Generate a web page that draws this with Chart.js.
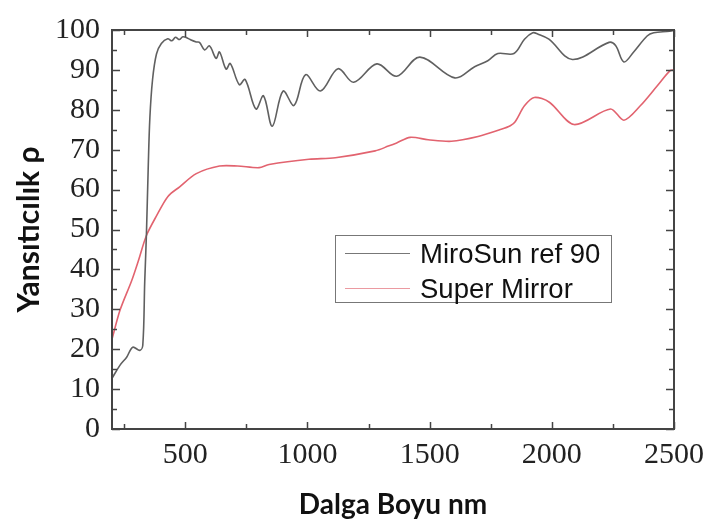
<!DOCTYPE html>
<html>
<head>
<meta charset="utf-8">
<script src="https://cdn.jsdelivr.net/npm/chart.js@4.4.0/dist/chart.umd.min.js"></script>
<style>
  html, body { margin: 0; padding: 0; background: #fff; }
  #wrap { position: relative; width: 712px; height: 530px; }
  #legend {
    position: absolute; left: 335px; top: 235px; width: 277px; height: 68px;
    box-sizing: border-box; border: 1.5px solid #777; background: #fff;
    font-family: "Liberation Sans", Arial, sans-serif; font-size: 27.5px; color: #111;
  }
  .row { display: flex; align-items: center; height: 33px; }
  .swatch { width: 65px; margin-left: 9px; margin-right: 10px; border-top: 1.5px solid; }
</style>
</head>
<body>
<div id="wrap">
  <canvas id="chart" width="712" height="530"></canvas>
  <div id="legend"></div>
</div>
<script>
// wavelength (nm) and reflectance values
const mirosunNm = [200, 233, 260, 285, 314, 326, 334, 341, 348, 355, 366, 382, 402, 428, 445, 460, 475, 490, 504, 520, 545,
  558, 579, 599, 626, 640, 667, 684, 721, 745, 789, 820, 856, 900, 945, 992, 1053, 1125, 1189, 1284, 1365, 1460,
  1603, 1684, 1738, 1779, 1845, 1888, 1922, 1942, 1988, 2084, 2234, 2261, 2295, 2335, 2390, 2417, 2482, 2500]
const mirosunR = [12.7, 16, 18, 20.5, 19.7, 21, 37, 49, 65, 78, 87.6, 94, 96.6, 97.8, 97.3, 98.2, 97.6, 98.3, 98.1, 97.6, 97,
  96.9, 95, 96, 92.9, 94.5, 90.2, 91.6, 86.3, 87.6, 80.2, 83.5, 75.9, 84.7, 81.1, 88.8, 84.7, 90.3, 86.9, 91.5, 88.4, 93.2,
  88, 90.8, 92.3, 94.1, 94.1, 97.7, 99.3, 99, 97.7, 92.6, 96.9, 96.1, 92, 94.5, 98.5, 99.3, 99.7, 100]

const superNm = [200, 233, 280, 307, 341, 382, 429, 477, 545, 640, 714, 802, 843, 1006, 1114, 1277, 1331, 1365, 1420,
  1494, 1589, 1698, 1793, 1830, 1850, 1888, 1928, 1990, 2091, 2240, 2295, 2362, 2430, 2484, 2500]
const superR = [22.5, 29.8, 37.1, 42, 48.5, 53.4, 58.3, 60.7, 64, 65.9, 65.9, 65.5, 66.3, 67.6, 68, 69.7, 70.9, 71.7, 73.1,
  72.5, 72.1, 73.3, 75.1, 76, 77, 81, 83.1, 81.9, 76.3, 80.2, 77.4, 81, 85.9, 89.8, 90]

const xMajorTicks = [500, 1000, 1500, 2000, 2500]
const xMinorTicks = [250, 750, 1250, 1750, 2250]
const yMajorTicks = [0, 10, 20, 30, 40, 50, 60, 70, 80, 90, 100]
const yMinorTicks = [5, 15, 25, 35, 45, 55, 65, 75, 85, 95]

const seriesLabels = ["MiroSun ref 90", "Super Mirror"]
const lineColors = ["#606060", "#e2636f"]
const legendColors = ["#777777", "#eb9aa1"]

// frame round the plot with inward ticks on every side
const framePlugin = {
  id: 'frame',
  afterDatasetsDraw(chart) {
    const { ctx, chartArea: a, scales: { x, y } } = chart
    ctx.save()
    ctx.strokeStyle = '#444'
    ctx.lineWidth = 2
    ctx.strokeRect(a.left, a.top, a.right - a.left, a.bottom - a.top)
    ctx.lineWidth = 1.5
    ctx.beginPath()
    const xt = (vals, len) => vals.forEach(v => {
      const px = Math.round(x.getPixelForValue(v)) + 0.5
      ctx.moveTo(px, a.bottom); ctx.lineTo(px, a.bottom - len)
      ctx.moveTo(px, a.top); ctx.lineTo(px, a.top + len)
    })
    const yt = (vals, len) => vals.forEach(v => {
      const py = Math.round(y.getPixelForValue(v)) + 0.5
      ctx.moveTo(a.left, py); ctx.lineTo(a.left + len, py)
      ctx.moveTo(a.right, py); ctx.lineTo(a.right - len, py)
    })
    xt(xMajorTicks, 7); xt(xMinorTicks, 5)
    yt(yMajorTicks, 8); yt(yMinorTicks, 5)
    ctx.stroke()
    ctx.restore()
  }
}

const ctx = document.getElementById('chart')
const chart = new Chart(ctx, {
  type: 'line',
  data: {
    datasets: [
      {
        label: seriesLabels[0],
        data: mirosunNm.map((v, i) => ({ x: v, y: mirosunR[i] })),
        borderColor: lineColors[0],
        borderWidth: 1.6,
        tension: 0.35
      },
      {
        label: seriesLabels[1],
        data: superNm.map((v, i) => ({ x: v, y: superR[i] })),
        borderColor: lineColors[1],
        borderWidth: 1.6,
        tension: 0.3
      }
    ]
  },
  options: {
    responsive: false,
    animation: false,
    layout: { padding: { left: 0, right: 37, top: 19, bottom: 0 } },
    elements: { point: { radius: 0 } },
    plugins: {
      legend: { display: false },
      tooltip: { enabled: false }
    },
    scales: {
      x: {
        type: 'linear',
        min: 200,
        max: 2500,
        afterBuildTicks: s => { s.ticks = xMajorTicks.map(v => ({ value: v })) },
        afterFit: s => { s.height = 101 },
        grid: { display: false, drawTicks: false },
        border: { display: false },
        ticks: {
          padding: 8,
          color: '#222',
          maxRotation: 0,
          autoSkip: false,
          callback: v => String(v),
          font: { family: '"Liberation Serif", serif', size: 30 }
        },
        title: {
          display: true,
          text: 'Dalga Boyu nm',
          color: '#111',
          font: { family: 'Lato', weight: 'bold', size: 28 },
          padding: { top: 0, bottom: 8 }
        }
      },
      y: {
        min: 0,
        max: 100,
        afterBuildTicks: s => { s.ticks = yMajorTicks.map(v => ({ value: v })) },
        afterFit: s => { s.width = 112 },
        grid: { display: false, drawTicks: false },
        border: { display: false },
        ticks: {
          padding: 12,
          color: '#222',
          callback: v => String(v),
          font: { family: '"Liberation Serif", serif', size: 30 }
        },
        title: {
          display: true,
          text: 'Yansıtıcılık ρ',
          color: '#111',
          font: { family: 'Lato', weight: 'bold', size: 30 },
          padding: { top: 11, bottom: 0 }
        }
      }
    }
  },
  plugins: [framePlugin]
})

// legend box built from the datasets
const legend = document.getElementById('legend')
chart.data.datasets.forEach((ds, i) => {
  const row = document.createElement('div')
  row.className = 'row'
  row.style.marginTop = i === 0 ? '1px' : '2px'
  const sw = document.createElement('span')
  sw.className = 'swatch'
  sw.style.borderTopColor = legendColors[i]
  const txt = document.createElement('span')
  txt.textContent = ds.label
  row.appendChild(sw)
  row.appendChild(txt)
  legend.appendChild(row)
})
</script>
</body>
</html>
